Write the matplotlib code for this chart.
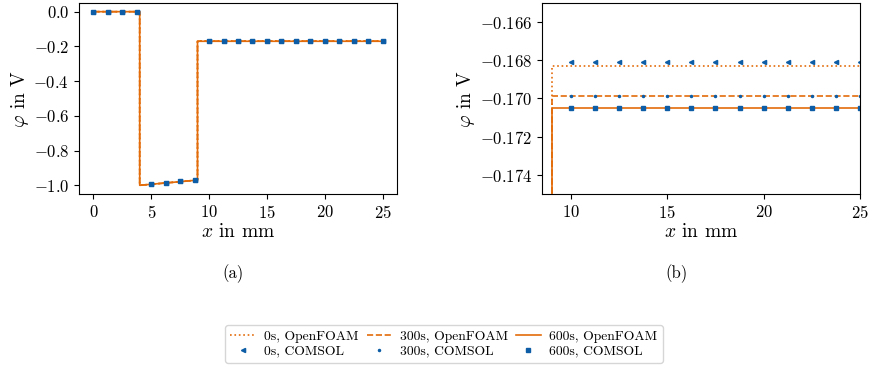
import numpy as np
import matplotlib
matplotlib.use("Agg")
import matplotlib.pyplot as plt

# -----------------------------
# Data
# -----------------------------
# OpenFOAM profiles: break points along x [mm]
x_of = [0.0, 4.0, 4.0, 9.0, 9.0, 25.0]
phi_of_0s = [0.0, 0.0, -1.0, -0.970, -0.16831, -0.16831]
phi_of_300s = [0.0, 0.0, -1.0, -0.970, -0.16988, -0.16988]
phi_of_600s = [0.0, 0.0, -1.0, -0.970, -0.17048, -0.17048]

# COMSOL sample points
x_cs = [0.0, 1.25, 2.5, 3.75, 5.0, 6.25, 7.5, 8.75,
        10.0, 11.25, 12.5, 13.75, 15.0, 16.25, 17.5, 18.75,
        20.0, 21.25, 22.5, 23.75, 25.0]
phi_cs_head = [0.0, 0.0, 0.0, 0.0, -0.994, -0.985, -0.978, -0.972]
phi_cs_0s = phi_cs_head + [-0.16808] * 13
phi_cs_300s = phi_cs_head + [-0.16988] * 13
phi_cs_600s = phi_cs_head + [-0.17048] * 13

# -----------------------------
# Style
# -----------------------------
plt.rcParams["font.family"] = "cmr10"
plt.rcParams["mathtext.fontset"] = "cm"
plt.rcParams["axes.formatter.use_mathtext"] = True
plt.rcParams["axes.unicode_minus"] = True

c_of = "#E36C0A"
c_cs = "#0C5DA5"

fig = plt.figure(figsize=(8.69, 3.69), dpi=100)
ax1 = fig.add_axes([0.0909, 0.4743, 0.3659, 0.5176])
ax2 = fig.add_axes([0.6237, 0.4743, 0.3659, 0.5176])


def draw(ax):
    l1, = ax.plot(x_of, phi_of_0s, ls=":", color=c_of, lw=1.2, label="0s, OpenFOAM")
    l2, = ax.plot(x_of, phi_of_300s, ls="--", color=c_of, lw=1.2, label="300s, OpenFOAM")
    l3, = ax.plot(x_of, phi_of_600s, ls="-", color=c_of, lw=1.2, label="600s, OpenFOAM")
    m1, = ax.plot(x_cs, phi_cs_0s, ls="none", marker="<", ms=3, color=c_cs, label="0s, COMSOL")
    m2, = ax.plot(x_cs, phi_cs_300s, ls="none", marker=".", ms=3, color=c_cs, label="300s, COMSOL")
    m3, = ax.plot(x_cs, phi_cs_600s, ls="none", marker="s", ms=3, color=c_cs, label="600s, COMSOL")
    ax.set_xlabel(r"$x$ in mm", fontsize=14, labelpad=2)
    ax.set_ylabel(r"$\varphi$ in V", fontsize=14, labelpad=2)
    ax.tick_params(labelsize=12)
    return [l1, m1, l2, m2, l3, m3]


handles = draw(ax1)
ax1.set_xticks([0, 5, 10, 15, 20, 25])
ax1.set_yticks([0.0, -0.2, -0.4, -0.6, -0.8, -1.0])

draw(ax2)
ax2.set_xlim(8.5, 25)
ax2.set_ylim(-0.175, -0.165)
ax2.set_xticks([10, 15, 20, 25])
ax2.set_yticks([-0.174, -0.172, -0.170, -0.168, -0.166])
ax2.yaxis.set_major_formatter(matplotlib.ticker.FormatStrFormatter(r"$%.3f$"))

fig.text(0.268, 0.258, "(a)", ha="center", va="center", fontsize=12)
fig.text(0.779, 0.258, "(b)", ha="center", va="center", fontsize=12)

fig.legend(handles=handles, ncol=3, loc="center", bbox_to_anchor=(0.511, 0.068),
           fontsize=9.8, frameon=True, handlelength=1.8, columnspacing=0.6,
           handletextpad=0.65, borderpad=0.4, labelspacing=0.15)

fig.savefig("out.png", dpi=100)
